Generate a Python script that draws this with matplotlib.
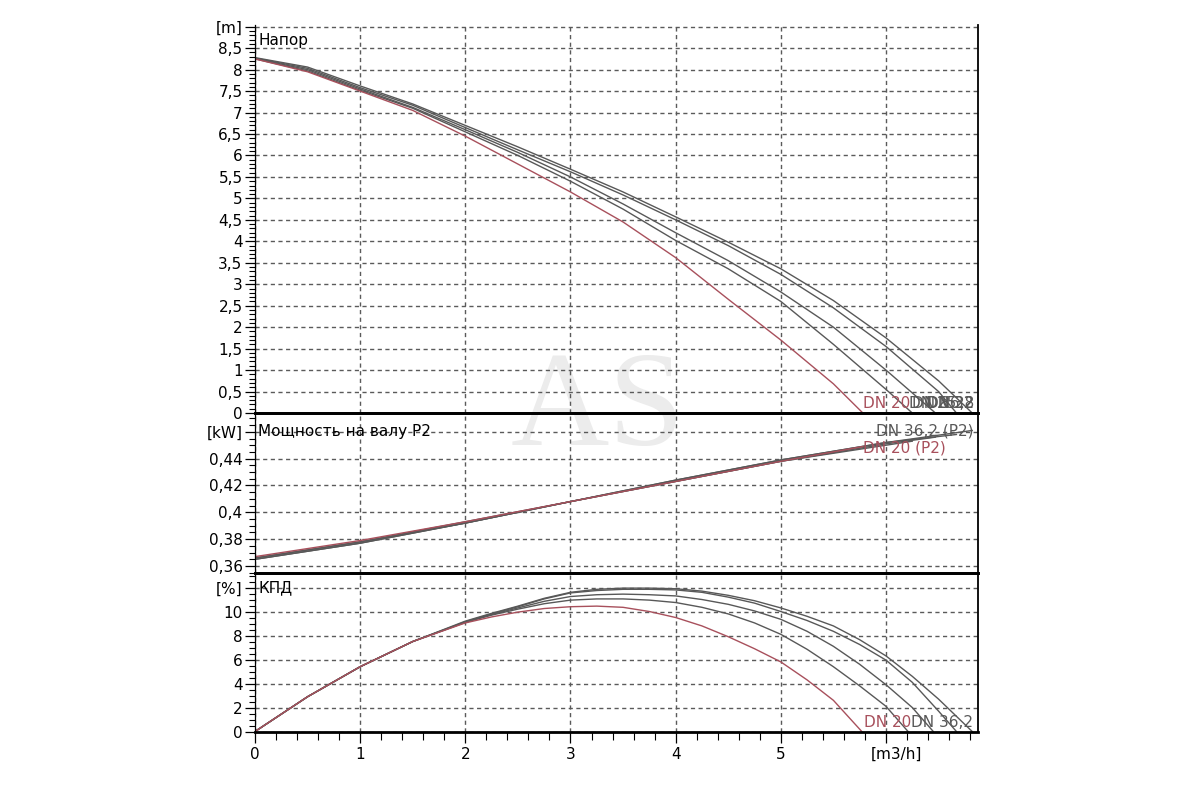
import matplotlib
matplotlib.use("Agg")
import matplotlib.pyplot as plt
import matplotlib.transforms as mtransforms
from matplotlib.ticker import MultipleLocator, FixedLocator

plt.rcParams['font.family'] = ['DejaVu Sans']

# ---------------- data ----------------
curve_names = ["DN 20", "DN 25", "DN 28", "DN 32", "DN 36,2"]

# Head [m] vs flow [m3/h]
q_head_dn20 = [0, 0.5, 1, 1.5, 2, 2.5, 3, 3.5, 4, 4.5, 5, 5.5, 5.78]
h_dn20 = [8.25, 7.95, 7.5, 7.05, 6.45, 5.8, 5.15, 4.45, 3.62, 2.65, 1.7, 0.68, 0]
q_head_dn25 = [0, 0.5, 1, 1.5, 2, 2.5, 3, 3.5, 4, 4.5, 5, 5.5, 6, 6.25]
h_dn25 = [8.25, 7.97, 7.52, 7.1, 6.55, 6.0, 5.4, 4.75, 4.02, 3.36, 2.6, 1.6, 0.55, 0]
q_head_dn28 = [0, 0.5, 1, 1.5, 2, 2.5, 3, 3.5, 4, 4.5, 5, 5.5, 6, 6.47]
h_dn28 = [8.26, 8.0, 7.55, 7.12, 6.6, 6.07, 5.5, 4.87, 4.2, 3.55, 2.82, 2.0, 1.0, 0]
q_head_dn32 = [0, 0.5, 1, 1.5, 2, 2.5, 3, 3.5, 4, 4.5, 5, 5.5, 6, 6.5, 6.67]
h_dn32 = [8.27, 8.03, 7.58, 7.17, 6.65, 6.13, 5.62, 5.08, 4.5, 3.9, 3.23, 2.45, 1.55, 0.5, 0]
q_head_dn36 = [0, 0.5, 1, 1.5, 2, 2.5, 3, 3.5, 4, 4.5, 5, 5.5, 6, 6.5, 6.82]
h_dn36 = [8.28, 8.06, 7.62, 7.2, 6.7, 6.2, 5.68, 5.15, 4.57, 3.98, 3.36, 2.62, 1.75, 0.75, 0]

# Shaft power P2 [kW]
q_p_dn20 = [0, 1, 2, 3, 4, 5, 5.78]
p_dn20 = [0.367, 0.379, 0.393, 0.408, 0.423, 0.438, 0.449]
q_p_dn25 = [0, 1, 2, 3, 4, 5, 6, 6.25]
p_dn25 = [0.366, 0.378, 0.393, 0.408, 0.423, 0.438, 0.450, 0.453]
q_p_dn28 = [0, 1, 2, 3, 4, 5, 6, 6.47]
p_dn28 = [0.366, 0.378, 0.392, 0.408, 0.423, 0.438, 0.451, 0.456]
q_p_dn32 = [0, 1, 2, 3, 4, 5, 6, 6.67]
p_dn32 = [0.365, 0.377, 0.392, 0.408, 0.424, 0.439, 0.452, 0.458]
q_p_dn36 = [0, 1, 2, 3, 4, 5, 6, 6.82]
p_dn36 = [0.365, 0.377, 0.392, 0.408, 0.424, 0.439, 0.452, 0.461]

# Efficiency [%]
q_e_dn20 = [0, 0.5, 1, 1.5, 2, 2.25, 2.5, 2.75, 3, 3.25, 3.5, 3.75, 4, 4.25, 4.5,
            4.75, 5, 5.25, 5.5, 5.77]
e_dn20 = [0, 2.9, 5.4, 7.5, 9.05, 9.55, 9.95, 10.25, 10.4, 10.45, 10.35, 10.0, 9.5,
          8.8, 7.9, 6.9, 5.8, 4.3, 2.6, 0]
q_e_dn25 = [0, 0.5, 1, 1.5, 2, 2.25, 2.5, 2.75, 3, 3.25, 3.5, 3.75, 4, 4.25, 4.5,
            4.75, 5, 5.25, 5.5, 5.75, 6, 6.21]
e_dn25 = [0, 2.9, 5.4, 7.5, 9.1, 9.7, 10.2, 10.65, 10.95, 11.05, 11.05, 10.95, 10.75,
          10.35, 9.8, 9.05, 8.1, 6.85, 5.4, 3.8, 2.1, 0]
q_e_dn28 = [0, 0.5, 1, 1.5, 2, 2.25, 2.5, 2.75, 3, 3.25, 3.5, 3.75, 4, 4.25, 4.5,
            4.75, 5, 5.25, 5.5, 5.75, 6, 6.25, 6.45]
e_dn28 = [0, 2.9, 5.4, 7.5, 9.1, 9.75, 10.3, 10.85, 11.25, 11.4, 11.45, 11.4, 11.3,
          11.0, 10.6, 10.05, 9.35, 8.35, 7.1, 5.6, 3.9, 2.0, 0]
q_e_dn32 = [0, 0.5, 1, 1.5, 2, 2.25, 2.5, 2.75, 3, 3.25, 3.5, 3.75, 4, 4.25, 4.5,
            4.75, 5, 5.25, 5.5, 5.75, 6, 6.25, 6.5, 6.67]
e_dn32 = [0, 2.9, 5.4, 7.5, 9.15, 9.8, 10.4, 11.05, 11.55, 11.75, 11.85, 11.85, 11.8,
          11.6, 11.2, 10.7, 10.0, 9.25, 8.35, 7.25, 5.95, 4.1, 1.7, 0]
q_e_dn36 = [0, 0.5, 1, 1.5, 2, 2.25, 2.5, 2.75, 3, 3.25, 3.5, 3.75, 4, 4.25, 4.5,
            4.75, 5, 5.25, 5.5, 5.75, 6, 6.25, 6.5, 6.82]
e_dn36 = [0, 2.9, 5.4, 7.5, 9.2, 9.85, 10.45, 11.1, 11.6, 11.85, 11.95, 11.95, 11.9,
          11.7, 11.35, 10.9, 10.3, 9.6, 8.8, 7.65, 6.3, 4.6, 2.7, 0]

x_ticks = [0, 1, 2, 3, 4, 5, 6]
x_tick_labels = ["0", "1", "2", "3", "4", "5", "[m3/h]"]
head_ticks = [0, 0.5, 1, 1.5, 2, 2.5, 3, 3.5, 4, 4.5, 5, 5.5, 6, 6.5, 7, 7.5, 8, 8.5, 9]
head_tick_labels = ["0", "0,5", "1", "1,5", "2", "2,5", "3", "3,5", "4", "4,5",
                    "5", "5,5", "6", "6,5", "7", "7,5", "8", "8,5", "[m]"]
power_ticks = [0.36, 0.38, 0.40, 0.42, 0.44, 0.46]
power_tick_labels = ["0,36", "0,38", "0,4", "0,42", "0,44", "[kW]"]
eff_ticks = [0, 2, 4, 6, 8, 10, 12]
eff_tick_labels = ["0", "2", "4", "6", "8", "10", "[%]"]

panel_titles = ["Напор", "Мощность на валу P2", "КПД"]

# ---------------- style ----------------
RED = "#a8505c"
GRAY = "#585858"
GRID = "#5a5a5a"
FS = 11

fig = plt.figure(figsize=(12, 8), dpi=100)
fig.patch.set_facecolor("white")

L, W = 0.2125, 0.6025
ax_h = fig.add_axes([L, 0.48375, W, 0.485])
ax_p = fig.add_axes([L, 0.28375, W, 0.2])
ax_e = fig.add_axes([L, 0.0856, W, 0.198])

# watermark
fig.text(0.498, 0.444, "AS", fontsize=98, color="#ececec", ha="center",
         va="baseline", family="Liberation Serif", zorder=-1)

xmax = 6.875
for ax in (ax_h, ax_p, ax_e):
    ax.set_facecolor("none")
    ax.set_xlim(0, xmax)
    ax.xaxis.set_major_locator(FixedLocator(x_ticks))
    ax.set_axisbelow(True)
    ax.grid(True, which="major", linestyle=(0, (3, 2.5)), color=GRID, linewidth=1.0)
    ax.spines["left"].set_linewidth(0.9)
    ax.spines["right"].set_linewidth(1.3)
    ax.tick_params(axis="y", which="major", direction="out", length=7.5, width=0.9,
                   labelsize=FS, pad=1.5)
    ax.tick_params(axis="y", which="minor", direction="out", length=4.5, width=0.8)
    ax.tick_params(axis="x", which="both", length=0, labelbottom=False)

# head panel
ax_h.spines["top"].set_visible(False)
ax_h.spines["bottom"].set_linewidth(2.0)
ax_h.set_ylim(0, 9.04)
ax_h.set_yticks(head_ticks)
ax_h.set_yticklabels(head_tick_labels)
ax_h.yaxis.set_minor_locator(MultipleLocator(0.1))

gray_head = [(q_head_dn25, h_dn25), (q_head_dn28, h_dn28),
             (q_head_dn32, h_dn32), (q_head_dn36, h_dn36)]
for qq, hh in gray_head:
    ax_h.plot(qq, hh, color=GRAY, lw=1.0)
ax_h.plot(q_head_dn20, h_dn20, color=RED, lw=1.0)

ax_h.text(q_head_dn20[-1], 0.12, curve_names[0], color=RED, fontsize=FS,
          ha="left", va="baseline")
ax_h.text(q_head_dn25[-1] - 0.03, 0.12, curve_names[1], color=GRAY, fontsize=FS,
          ha="left", va="baseline")
for name in curve_names[2:]:
    ax_h.text(xmax - 0.04, 0.12, name, color=GRAY, fontsize=FS,
              ha="right", va="baseline")
ax_h.text(0.03, 8.67, panel_titles[0], fontsize=FS, ha="left", va="center")

# power panel
ax_p.spines["top"].set_linewidth(2.0)
ax_p.spines["bottom"].set_linewidth(2.0)
ax_p.set_ylim(0.3548, 0.474)
ax_p.set_yticks(power_ticks)
ax_p.set_yticklabels(power_tick_labels)
ax_p.yaxis.set_minor_locator(MultipleLocator(0.005))

gray_p = [(q_p_dn25, p_dn25), (q_p_dn28, p_dn28), (q_p_dn32, p_dn32), (q_p_dn36, p_dn36)]
for qq, pp in gray_p:
    ax_p.plot(qq, pp, color=GRAY, lw=1.0)
ax_p.plot(q_p_dn20, p_dn20, color=RED, lw=1.0)
ax_p.text(xmax - 0.04, 0.4605, curve_names[4] + " (P2)", color=GRAY, fontsize=FS,
          ha="right", va="center")
ax_p.text(q_p_dn20[-1], 0.4478, curve_names[0] + " (P2)", color=RED, fontsize=FS,
          ha="left", va="center")
ax_p.text(0.03, 0.46, panel_titles[1], fontsize=FS, ha="left", va="center")

# efficiency panel
ax_e.spines["top"].set_linewidth(2.0)
ax_e.spines["bottom"].set_linewidth(2.0)
ax_e.set_ylim(0, 13.2)
ax_e.set_yticks(eff_ticks)
ax_e.set_yticklabels(eff_tick_labels)
ax_e.yaxis.set_minor_locator(MultipleLocator(0.5))
ax_e.xaxis.set_minor_locator(MultipleLocator(0.2))
ax_e.set_xticklabels(x_tick_labels)
ax_e.tick_params(axis="x", which="major", direction="out", length=8, width=0.9,
                 labelsize=FS, labelbottom=True, pad=3)
ax_e.tick_params(axis="x", which="minor", direction="out", length=5.5, width=0.8)
unit_lbl = ax_e.get_xticklabels()[-1]
unit_lbl.set_transform(unit_lbl.get_transform() +
                       mtransforms.ScaledTranslation(10 / 100, 0, fig.dpi_scale_trans))

gray_e = [(q_e_dn25, e_dn25), (q_e_dn28, e_dn28), (q_e_dn32, e_dn32), (q_e_dn36, e_dn36)]
for qq, ee in gray_e:
    ax_e.plot(qq, ee, color=GRAY, lw=1.0)
ax_e.plot(q_e_dn20, e_dn20, color=RED, lw=1.0)
ax_e.text(q_e_dn20[-1] + 0.02, 0.38, curve_names[0], color=RED, fontsize=FS,
          ha="left", va="baseline")
ax_e.text(xmax - 0.05, 0.38, curve_names[4], color=GRAY, fontsize=FS,
          ha="right", va="baseline")
ax_e.text(0.03, 12.0, panel_titles[2], fontsize=FS, ha="left", va="center")

fig.savefig("out.png", dpi=100, facecolor="white")
